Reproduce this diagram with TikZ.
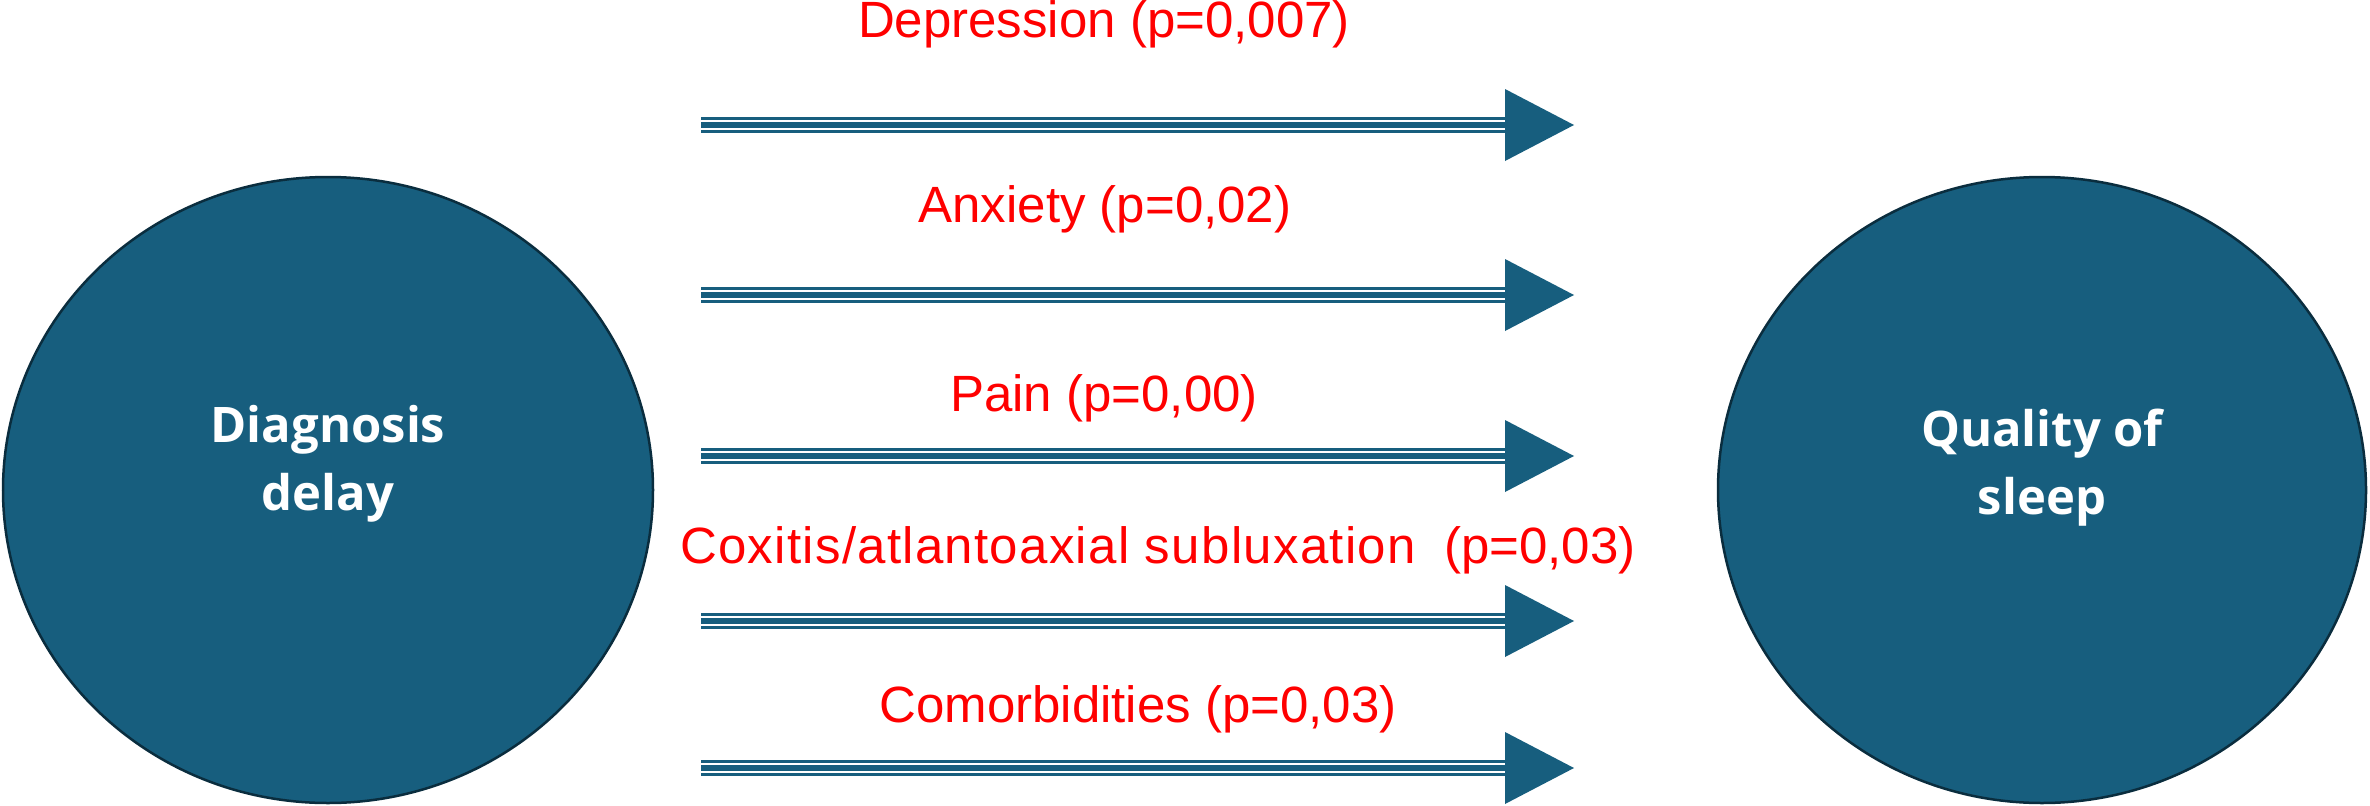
\documentclass[tikz,border=0pt]{standalone}
\usepackage{fontspec}
\setmainfont{Liberation Sans}
\newfontfamily\whitefont{Open Sans}[UprightFont=* Bold]
\usetikzlibrary{shapes.geometric}
\definecolor{blu}{RGB}{23,94,126}
\definecolor{blueedge}{RGB}{10,45,62}
\definecolor{redtxt}{RGB}{255,0,0}
\tikzset{
  bubble/.style={ellipse, draw=blueedge, line width=2.5pt, fill=blu, inner sep=0pt},
  wtxt/.style={text=white, align=center, inner sep=0pt,
    font=\whitefont\fontsize{49}{68}\selectfont},
  lbl/.style={text=redtxt, inner sep=0pt, anchor=base,
    font=\fontsize{51}{60}\selectfont},
  triple/.style={draw=blu, line width=16pt,
    postaction={draw=white, line width=10.5pt},
    postaction={draw=blu, line width=5.5pt}},
  head/.style={fill=blu}
}
\begin{document}
\begin{tikzpicture}[x=1pt,y=-1pt]
\path[use as bounding box, fill=white] (0,0) rectangle (2370,806);

\node[bubble, minimum width=650pt, minimum height=626pt] (dd) at (328,490) {};
\node[bubble, minimum width=648pt, minimum height=626pt] (qs) at (2042,490) {};
\node[wtxt] (ddt) at (328,463.5) {Diagnosis\\delay};
\node[wtxt] (qst) at (2042,468) {Quality of\\sleep};

\foreach \i/\y in {1/125,2/295,3/456,4/621,5/768}{
  \coordinate (s\i) at (701,\y);
  \coordinate (e\i) at (1505,\y);
  \path[triple] (s\i) -- (e\i);
  \fill[head] (e\i) ++(0,-36) -- ++(69,36) -- ++(-69,36) -- cycle;
}

\node[lbl] (l1) at (1104,37) {Depression (p=0,007)};
\node[lbl] (l2) at (1105,222) {Anxiety (p=0,02)};
\node[lbl] (l3) at (1104,411) {Pain (p=0,00)};
\node[lbl, anchor=base west] (l4) at (680,563) {{\addfontfeature{LetterSpace=2.5}Coxitis/atlantoaxial subluxation}\ \ (p=0,03)};
\node[lbl] (l5) at (1138,722) {Comorbidities (p=0,03)};
\end{tikzpicture}
\end{document}
